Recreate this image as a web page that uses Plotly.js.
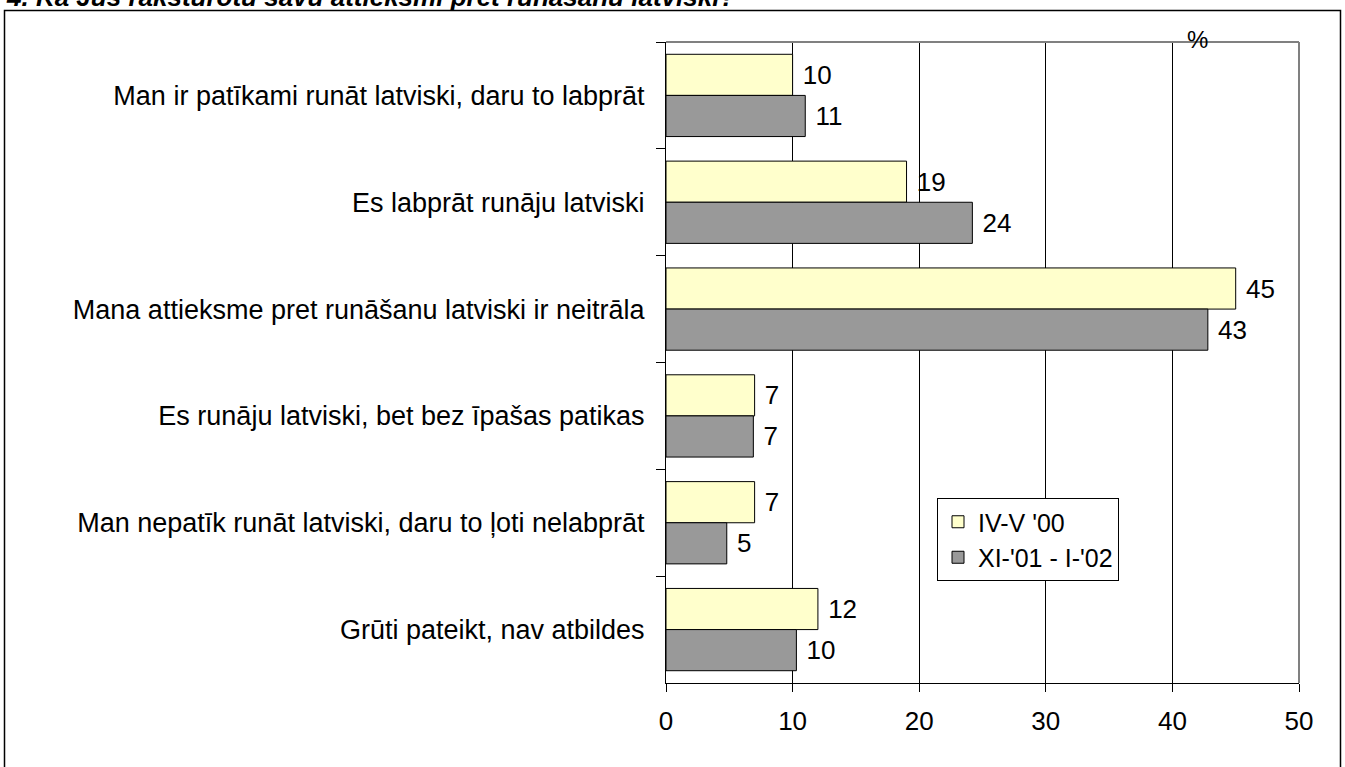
<!DOCTYPE html>
<html>
<head>
<meta charset="utf-8">
<script src="https://cdn.plot.ly/plotly-3.0.1.min.js"></script>
<style>
html, body { margin: 0; padding: 0; background: #ffffff; }
#chart { width: 1345px; height: 767px; }
</style>
</head>
<body>
<div id="chart"></div>
<script>
const titleText = "4. Kā Jūs raksturotu savu attieksmi pret runāšanu latviski?";
const categories = [
  "Man ir patīkami runāt latviski, daru to labprāt",
  "Es labprāt runāju latviski",
  "Mana attieksme pret runāšanu latviski ir neitrāla",
  "Es runāju latviski, bet bez īpašas patikas",
  "Man nepatīk runāt latviski, daru to ļoti nelabprāt",
  "Grūti pateikt, nav atbildes"
];
const seriesNames = ["IV-V '00", "XI-'01 - I-'02"];
const values2000 = [10, 19, 45, 7, 7, 12];
const values2002 = [11, 24.2, 42.8, 6.9, 4.8, 10.3];
const xTicks = [0, 10, 20, 30, 40, 50];
const unitLabel = "%";

const FONT = "Liberation Sans, Arial, sans-serif";

function barTrace(vals, name, color) {
  return {
    type: "bar",
    orientation: "h",
    name: name,
    y: categories,
    x: vals,
    text: vals.map(v => " " + Math.round(v)),
    textposition: "outside",
    cliponaxis: false,
    textfont: { family: FONT, size: 26, color: "#000000" },
    marker: { color: color, line: { color: "#000000", width: 1 } },
    hoverinfo: "x+y+name"
  };
}

const data = [
  barTrace(values2000, seriesNames[0], "#FFFFCC"),
  barTrace(values2002, seriesNames[1], "#999999")
];

// plot area: x 666..1299, y 42..683
const L = 666, R = 1299, T = 42, B = 683;
const W = R - L, H = B - T;
const px = x => (x - L) / W;
const py = y => (B - y) / H;

const layout = {
  width: 1345,
  height: 767,
  margin: { l: L, r: 1345 - R, t: T, b: 767 - B, pad: 0 },
  paper_bgcolor: "#ffffff",
  plot_bgcolor: "#ffffff",
  font: { family: FONT, size: 26, color: "#000000" },
  barmode: "group",
  bargap: 0.23,
  bargroupgap: 0,
  showlegend: true,
  legend: {
    x: px(937), y: py(498), xanchor: "left", yanchor: "top",
    bgcolor: "#ffffff", bordercolor: "#000000", borderwidth: 1,
    font: { family: FONT, size: 25, color: "#000000" },
    tracegroupgap: 0, itemwidth: 30
  },
  xaxis: {
    range: [0, 50],
    tickvals: xTicks,
    ticktext: xTicks.map(String),
    showgrid: true, gridcolor: "#000000", gridwidth: 1,
    zeroline: false,
    showline: true, linecolor: "#000000", linewidth: 1,
    ticks: "outside", ticklen: 8, tickcolor: "#000000", tickwidth: 1,
    tickfont: { family: FONT, size: 26, color: "#000000" },
    ticklabelstandoff: 7,
    fixedrange: true
  },
  yaxis: {
    type: "category",
    autorange: "reversed",
    showgrid: false,
    zeroline: false,
    showline: true, linecolor: "#000000", linewidth: 1,
    ticks: "outside", ticklen: 9, tickcolor: "#000000", tickwidth: 1,
    tickson: "boundaries",
    tickfont: { family: FONT, size: 27, color: "#000000" },
    ticklabelstandoff: 15,
    fixedrange: true
  },
  shapes: [
    // gray plot-area border on top and right
    { type: "line", xref: "paper", yref: "paper", x0: 0, x1: 1, y0: 1, y1: 1,
      line: { color: "#808080", width: 2 }, layer: "above" },
    { type: "line", xref: "paper", yref: "paper", x0: 1, x1: 1, y0: 0, y1: 1,
      line: { color: "#808080", width: 2 }, layer: "above" },
    // outer chart frame
    { type: "rect", xref: "paper", yref: "paper",
      x0: px(4.5), x1: px(1340.5), y0: py(775), y1: py(10.5),
      line: { color: "#000000", width: 1.5 }, fillcolor: "rgba(0,0,0,0)", layer: "above" }
  ],
  annotations: [
    { text: "<b><i>" + titleText + "</i></b>", xref: "paper", yref: "paper",
      x: px(4), y: py(14), xanchor: "left", yanchor: "bottom", showarrow: false,
      font: { family: FONT, size: 26, color: "#000000" } },
    { text: unitLabel, xref: "paper", yref: "paper",
      x: px(1197), y: py(39), xanchor: "center", yanchor: "middle", showarrow: false,
      font: { family: FONT, size: 24, color: "#000000" } }
  ]
};

Plotly.newPlot("chart", data, layout, { displayModeBar: false, staticPlot: true });
</script>
</body>
</html>
